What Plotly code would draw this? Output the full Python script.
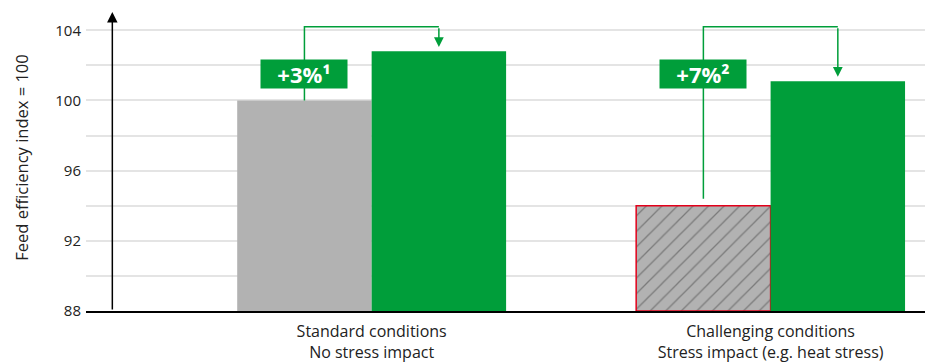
import plotly.graph_objects as go

# Feed efficiency index (control = 100)
categories = ["Standard conditions<br>No stress impact",
              "Challenging conditions<br>Stress impact (e.g. heat stress)"]
x_pos = [0, 1]
baseline_values = [100.0, 94.0]      # without product
treated_values = [102.8, 101.1]      # with product
gain_labels = ["+3%¹", "+7%²"]
y_ticks = [88, 92, 96, 100, 104]

GREEN = "#009e3a"
GRAY = "#b2b2b2"
RED = "#e2001a"
FONT = "Open Sans"

bar_w = 0.337

fig = go.Figure()
fig.add_trace(go.Bar(
    x=x_pos, y=[v - 88 for v in baseline_values], base=88,
    width=bar_w, offset=-bar_w,
    marker=dict(
        color=[GRAY, GRAY],
        line=dict(color=["rgba(0,0,0,0)", RED], width=[0, 1.5]),
        pattern=dict(shape=["", "/"], bgcolor=GRAY, fgcolor="#6f6f6f",
                     size=11, solidity=0.12, fillmode="overlay"),
    ),
    hoverinfo="skip", showlegend=False,
))
fig.add_trace(go.Bar(
    x=x_pos, y=[v - 88 for v in treated_values], base=88,
    width=bar_w, offset=0,
    marker=dict(color=GREEN, line=dict(width=0)),
    hoverinfo="skip", showlegend=False,
))

bracket_top = 104.2
label_y = 101.5
start_gap = [0.0, 0.4]
tip_gap = 0.25

shapes = []
annotations = []
for i, xc in enumerate(x_pos):
    xl = xc - bar_w / 2
    xr = xc + bar_w / 2
    y0 = baseline_values[i] + start_gap[i]
    shapes.append(dict(
        type="path", xref="x", yref="y",
        path=f"M {xl},{y0} L {xl},{bracket_top} L {xr},{bracket_top}",
        line=dict(color=GREEN, width=1.5), layer="above",
    ))
    annotations.append(dict(
        x=xr, y=treated_values[i] + tip_gap, ax=xr, ay=bracket_top,
        xref="x", yref="y", axref="x", ayref="y",
        showarrow=True, arrowhead=2, arrowsize=1.3, arrowwidth=1.5,
        arrowcolor=GREEN, text="",
    ))
    annotations.append(dict(
        x=xl, y=label_y, xref="x", yref="y", showarrow=False,
        text=f"<b>{gain_labels[i]}</b>", bgcolor=GREEN,
        font=dict(family=FONT, size=22, color="white"),
        width=84, height=26, borderpad=1,
    ))

# vertical axis with arrow
axis_x = -0.65
annotations.append(dict(
    x=axis_x, y=105.05, ax=axis_x, ay=88,
    xref="x", yref="y", axref="x", ayref="y",
    showarrow=True, arrowhead=2, arrowsize=1.4, arrowwidth=1.5,
    arrowcolor="black", text="",
))

fig.update_layout(
    width=925, height=363,
    margin=dict(l=86, r=0, t=4, b=50),
    plot_bgcolor="white", paper_bgcolor="white",
    font=dict(family=FONT, color="#222222"),
    shapes=shapes, annotations=annotations,
    xaxis=dict(
        range=[-0.716, 1.387], tickvals=x_pos, ticktext=categories,
        showgrid=False, zeroline=False, showline=True,
        linecolor="black", linewidth=2, ticks="",
        ticklabelstandoff=5,
        tickfont=dict(family=FONT, size=16, color="#222222"),
    ),
    yaxis=dict(
        range=[88, 105.5], tickvals=y_ticks, showgrid=True,
        gridcolor="#e4e4e4", gridwidth=1.5, zeroline=False,
        minor=dict(dtick=2, tick0=88, showgrid=True,
                   gridcolor="#e4e4e4", gridwidth=1.5),
        ticks="", ticklabelstandoff=4,
        tickfont=dict(family=FONT, size=15, color="#222222"),
        title=dict(text="Feed efficiency index = 100", standoff=22,
                   font=dict(family=FONT, size=16.5, color="#222222")),
    ),
)

fig.write_html("out.html")
